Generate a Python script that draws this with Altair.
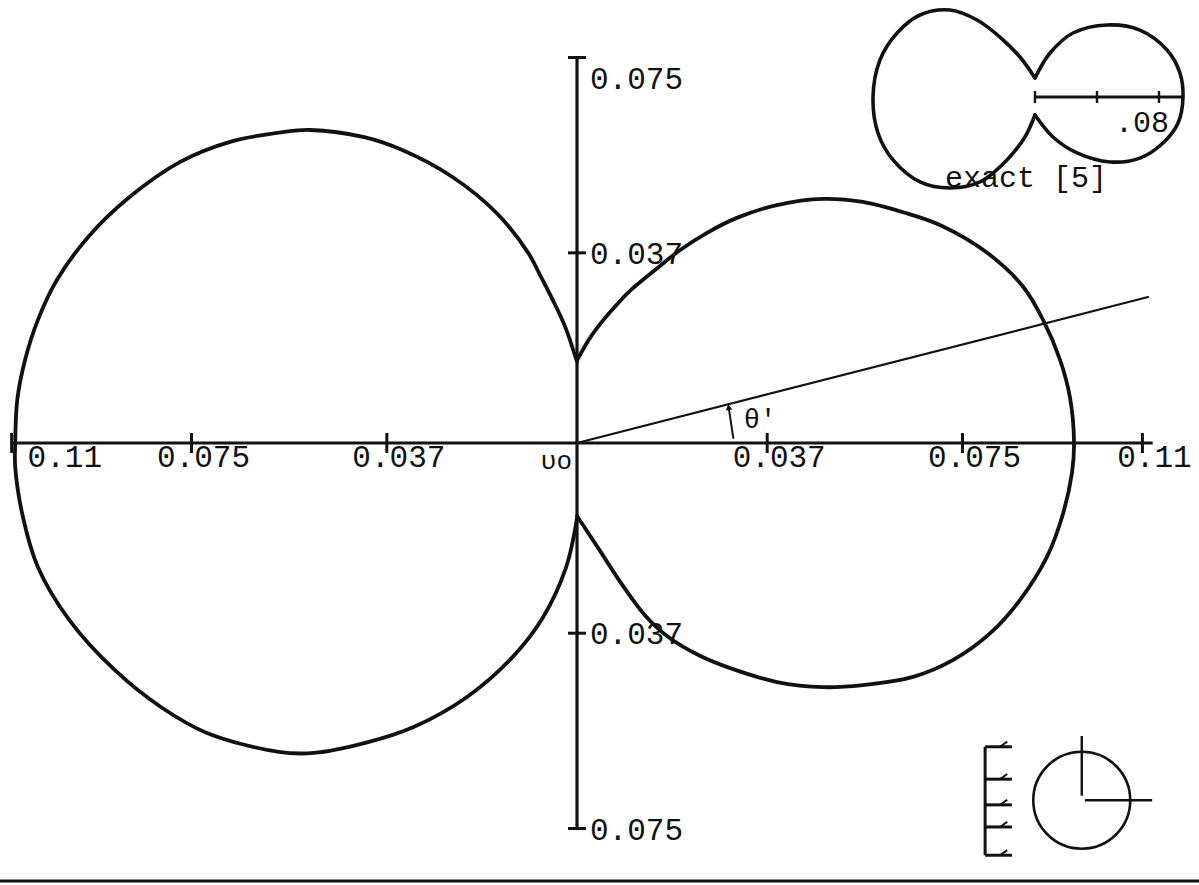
import altair as alt
import pandas as pd

FONT = "Liberation Mono"
INK = "#111111"

# Windows of the two coordinate systems (data units): main pattern and the small inset.
X_DOMAIN = [-0.11226, 0.12101]
Y_DOMAIN = [-0.08599, 0.08619]
IX_DOMAIN = [-0.66774, 0.10581]
IY_DOMAIN = [-0.50839, 0.06258]

# ---- main pattern: right lobe, from the upper cusp clockwise to the lower cusp ----
right_x = [0.0000, 0.0025, 0.0051, 0.0078, 0.0103, 0.0156, 0.0200, 0.0253, 0.0311, 0.0389,
           0.0479, 0.0556, 0.0634, 0.0706, 0.0798, 0.0868, 0.0907, 0.0940, 0.0959, 0.0967,
           0.0963, 0.0946, 0.0914, 0.0862, 0.0804, 0.0732, 0.0654, 0.0556, 0.0479,
           0.0389, 0.0298, 0.0239, 0.0177, 0.0132, 0.0088, 0.0041, 0.0000]
right_y = [0.0161, 0.0204, 0.0239, 0.0270, 0.0296, 0.0340, 0.0375, 0.0409, 0.0438, 0.0463,
           0.0475, 0.0469, 0.0449, 0.0424, 0.0370, 0.0304, 0.0239, 0.0161, 0.0089, 0.0000,
           -0.0058, -0.0136, -0.0222, -0.0305, -0.0370, -0.0422, -0.0455, -0.0471, -0.0475,
           -0.0465, -0.0438, -0.0414, -0.0377, -0.0335, -0.0276, -0.0204, -0.0142]

# ---- main pattern: left lobe, from the upper cusp counter-clockwise to the lower cusp ----
left_x = [0.0000, -0.0023, -0.0047, -0.0072, -0.0095, -0.0156, -0.0243, -0.0340, -0.0414,
          -0.0519, -0.0572, -0.0675, -0.0772, -0.0870, -0.0951, -0.1012, -0.1049, -0.1074,
          -0.1089, -0.1093, -0.1093, -0.1078, -0.1049, -0.0988, -0.0899, -0.0809, -0.0720,
          -0.0580, -0.0512, -0.0414, -0.0319, -0.0214, -0.0125, -0.0066, -0.0021, 0.0000]
left_y = [0.0158, 0.0226, 0.0278, 0.0327, 0.0370, 0.0447, 0.0518, 0.0570, 0.0595,
          0.0609, 0.0605, 0.0586, 0.0547, 0.0479, 0.0401, 0.0317, 0.0239, 0.0161,
          0.0084, 0.0000, -0.0047, -0.0144, -0.0241, -0.0344, -0.0442, -0.0514, -0.0564,
          -0.0601, -0.0603, -0.0584, -0.0553, -0.0494, -0.0416, -0.0339, -0.0241, -0.0146]

# ---- axes ----
x_ticks = [-0.11, -0.075, -0.037, 0.037, 0.075, 0.11]
x_tick_labels = ["0.11", "0.075", "0.037", "0.037", "0.075", "0.11"]
y_ticks = [0.075, 0.037, -0.037, -0.075]
y_tick_labels = ["0.075", "0.037", "0.037", "0.075"]
x_axis_span = [-0.11, 0.112]
y_axis_span = [-0.075, 0.075]

# ---- direction ray at angle theta' ----
ray_x = [0.0, 0.1111]
ray_y = [0.0, 0.0284]
arrow_x = [0.0304, 0.0295]
arrow_y = [0.0010, 0.0070]

# ---- inset: exact solution ----
inset_left_x = [0.0, -0.0097, -0.0226, -0.0374, -0.0548, -0.0742, -0.0890, -0.1000, -0.1045,
                -0.1013, -0.0916, -0.0742, -0.0548, -0.0355, -0.0181, -0.0065, 0.0]
inset_left_y = [0.0123, 0.0258, 0.0387, 0.0497, 0.0561, 0.0529, 0.0413, 0.0239, 0.0,
                -0.0232, -0.0406, -0.0548, -0.0587, -0.0548, -0.0406, -0.0258, -0.0116]
inset_right_x = [0.0, 0.0097, 0.0245, 0.0465, 0.0677, 0.0852, 0.0935, 0.0955, 0.0923,
                 0.0826, 0.0677, 0.0484, 0.0271, 0.0116, 0.0]
inset_right_y = [0.0123, 0.0284, 0.0413, 0.0465, 0.0432, 0.0303, 0.0155, 0.0, -0.0168,
                 -0.0297, -0.0394, -0.0419, -0.0361, -0.0258, -0.0116]
inset_ticks = [0.0, 0.04, 0.08]
inset_axis_end = 0.0948

# ---- orientation key (lower right) ----
key_center = (0.0982, -0.0695)
key_up_end = -0.0570
key_right = (0.0988, 0.1119)
bar_x = (0.0794, 0.0846)
bar_ticks = [-0.0591, -0.0654, -0.0704, -0.0747, -0.0802]
page_rule_y = -0.0852


def qx(field, domain):
    return alt.X(field, type="quantitative",
                 scale=alt.Scale(domain=domain, nice=False, zero=False), axis=None)


def qy(field, domain):
    return alt.Y(field, type="quantitative",
                 scale=alt.Scale(domain=domain, nice=False, zero=False), axis=None)


def mx(f):
    return qx(f, X_DOMAIN)


def my(f):
    return qy(f, Y_DOMAIN)


def ix(f):
    return qx(f, IX_DOMAIN)


def iy(f):
    return qy(f, IY_DOMAIN)


def lobe_frame(parts):
    rows = []
    for name, xs, ys in parts:
        for i, (a, b) in enumerate(zip(xs, ys)):
            rows.append({"x": a, "y": b, "lobe": name, "i": i})
    return pd.DataFrame(rows)


line_style = dict(color=INK, strokeCap="round", strokeJoin="round")
text_style = dict(font=FONT, color=INK)

# ================= main pattern =================
lobes = lobe_frame([("right", right_x, right_y), ("left", left_x, left_y)])
curve = alt.Chart(lobes).mark_line(strokeWidth=3.8, interpolate="catmull-rom", **line_style).encode(
    x=mx("x"), y=my("y"), detail="lobe:N", order="i:Q")

h_axis = alt.Chart(pd.DataFrame({"x": [x_axis_span[0]], "x2": [x_axis_span[1]], "y": [0.0]})).mark_rule(
    strokeWidth=3.2, color=INK).encode(x=mx("x"), x2="x2:Q", y=my("y"))
v_axis = alt.Chart(pd.DataFrame({"y": [y_axis_span[0]], "y2": [y_axis_span[1]], "x": [0.0]})).mark_rule(
    strokeWidth=3.2, color=INK).encode(y=my("y"), y2="y2:Q", x=mx("x"))

xt = pd.DataFrame({"x": x_ticks, "y": 0.0, "label": x_tick_labels})
yt = pd.DataFrame({"y": y_ticks, "x": 0.0, "label": y_tick_labels})

x_tick_marks = alt.Chart(xt).mark_tick(orient="vertical", size=20, thickness=3, color=INK, opacity=1).encode(
    x=mx("x"), y=my("y"))
y_tick_marks = alt.Chart(yt).mark_tick(orient="horizontal", size=18, thickness=3, color=INK, opacity=1).encode(
    x=mx("x"), y=my("y"))

x_label_edge = alt.Chart(xt.iloc[[0]]).mark_text(
    align="left", baseline="middle", dx=16, dy=15, fontSize=31, **text_style).encode(
    x=mx("x"), y=my("y"), text="label:N")
x_label_rest = alt.Chart(xt.iloc[1:]).mark_text(
    align="center", baseline="middle", dx=12, dy=15, fontSize=31, **text_style).encode(
    x=mx("x"), y=my("y"), text="label:N")
y_label_top = alt.Chart(yt.iloc[[0]]).mark_text(
    align="left", baseline="middle", dx=13, dy=22, fontSize=31, **text_style).encode(
    x=mx("x"), y=my("y"), text="label:N")
y_label_rest = alt.Chart(yt.iloc[1:]).mark_text(
    align="left", baseline="middle", dx=13, dy=2, fontSize=31, **text_style).encode(
    x=mx("x"), y=my("y"), text="label:N")

origin_label = alt.Chart(pd.DataFrame({"x": [0.0], "y": [0.0], "t": ["υo"]})).mark_text(
    align="right", baseline="middle", dx=-5, dy=18, fontSize=26, **text_style).encode(
    x=mx("x"), y=my("y"), text="t:N")

ray = alt.Chart(pd.DataFrame({"x": ray_x, "y": ray_y, "i": [0, 1]})).mark_line(
    strokeWidth=2.2, **line_style).encode(x=mx("x"), y=my("y"), order="i:Q")
arrow = alt.Chart(pd.DataFrame({"x": arrow_x, "y": arrow_y, "i": [0, 1]})).mark_line(
    strokeWidth=2, **line_style).encode(x=mx("x"), y=my("y"), order="i:Q")
arrow_head = alt.Chart(pd.DataFrame({"x": [arrow_x[1]], "y": [arrow_y[1]]})).mark_point(
    shape="triangle-up", size=45, filled=True, color=INK, opacity=1, angle=352).encode(
    x=mx("x"), y=my("y"))
theta_label = alt.Chart(pd.DataFrame({"x": [0.0356], "y": [0.0045], "t": ["θ'"]})).mark_text(
    align="center", baseline="middle", fontSize=27, **text_style).encode(
    x=mx("x"), y=my("y"), text="t:N")

# orientation key: circle with two radii, and a small ruled bar
key_circle = alt.Chart(pd.DataFrame({"x": [key_center[0]], "y": [key_center[1]]})).mark_point(
    shape="circle", size=9400, filled=False, strokeWidth=2.6, color=INK, opacity=1).encode(
    x=mx("x"), y=my("y"))
key_up = alt.Chart(pd.DataFrame({"x": [key_center[0]], "y": [key_center[1] + 0.0009], "y2": [key_up_end]})).mark_rule(
    strokeWidth=2.4, color=INK).encode(x=mx("x"), y=my("y"), y2="y2:Q")
key_side = alt.Chart(pd.DataFrame({"x": [key_right[0]], "x2": [key_right[1]], "y": [key_center[1]]})).mark_rule(
    strokeWidth=2.4, color=INK).encode(x=mx("x"), x2="x2:Q", y=my("y"))
bar_spine = alt.Chart(pd.DataFrame({"x": [bar_x[0]], "y": [bar_ticks[0]], "y2": [bar_ticks[-1]]})).mark_rule(
    strokeWidth=3, color=INK).encode(x=mx("x"), y=my("y"), y2="y2:Q")
bt = pd.DataFrame({"y": bar_ticks, "x": bar_x[0], "x2": bar_x[1]})
bar_rungs = alt.Chart(bt).mark_rule(strokeWidth=3, color=INK).encode(x=mx("x"), x2="x2:Q", y=my("y"))
barbs = alt.Chart(bt).transform_calculate(bx="0.0823", bx2="0.0837", by2="datum.y + 0.0010").mark_rule(
    strokeWidth=2, color=INK).encode(x=mx("bx"), x2="bx2:Q", y=my("y"), y2="by2:Q")

page_rule = alt.Chart(pd.DataFrame({"x": [X_DOMAIN[0]], "x2": [X_DOMAIN[1]], "y": [page_rule_y]})).mark_rule(
    strokeWidth=3, color=INK).encode(x=mx("x"), x2="x2:Q", y=my("y"))

main = alt.layer(
    h_axis, v_axis, x_tick_marks, y_tick_marks,
    x_label_edge, x_label_rest, y_label_top, y_label_rest, origin_label,
    ray, arrow, arrow_head, theta_label,
    key_circle, key_up, key_side, bar_spine, bar_rungs, barbs, page_rule,
    curve,
)

# ================= inset =================
inset_lobes = lobe_frame([("right", inset_right_x, inset_right_y), ("left", inset_left_x, inset_left_y)])
inset_curve = alt.Chart(inset_lobes).mark_line(strokeWidth=3.6, interpolate="catmull-rom", **line_style).encode(
    x=ix("x"), y=iy("y"), detail="lobe:N", order="i:Q")
inset_axis = alt.Chart(pd.DataFrame({"x": [0.0], "x2": [inset_axis_end], "y": [0.0]})).mark_rule(
    strokeWidth=2.8, color=INK).encode(x=ix("x"), x2="x2:Q", y=iy("y"))
it = pd.DataFrame({"x": inset_ticks, "y": 0.0, "label": ["", "", ".08"]})
inset_tick_marks = alt.Chart(it).mark_tick(orient="vertical", size=12, thickness=2.4, color=INK, opacity=1).encode(
    x=ix("x"), y=iy("y"))
inset_label = alt.Chart(it.iloc[[2]]).mark_text(
    align="center", baseline="middle", dx=-17, dy=26, fontSize=30, **text_style).encode(
    x=ix("x"), y=iy("y"), text="label:N")
inset_title = alt.Chart(pd.DataFrame({"x": [-0.058], "y": [-0.0523], "t": ["exact [5]"]})).mark_text(
    align="left", baseline="middle", fontSize=30, **text_style).encode(
    x=ix("x"), y=iy("y"), text="t:N")

inset = alt.layer(inset_curve, inset_axis, inset_tick_marks, inset_label, inset_title)

chart = alt.layer(main, inset).resolve_scale(x="independent", y="independent").properties(
    width=1199, height=885, autosize="none", padding=0, background="white"
).configure_view(stroke=None)

chart.save("out.html", embed_options={"renderer": "svg", "actions": False})
